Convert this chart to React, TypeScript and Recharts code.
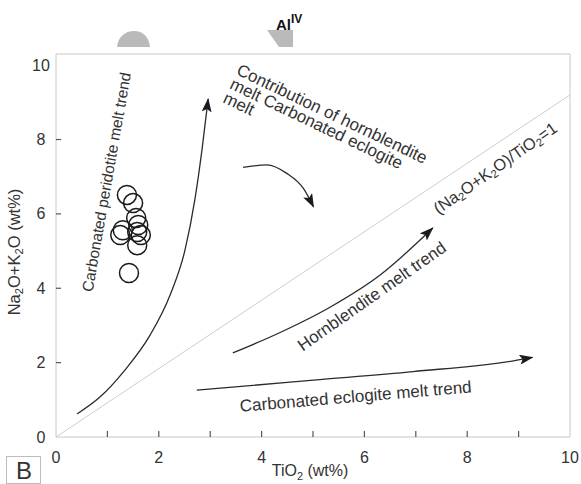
import React from 'react';
import { ComposedChart, XAxis, YAxis, Line, Scatter, ReferenceLine, ReferenceDot } from 'recharts';

const FONT = '"Liberation Sans", Arial, Helvetica, sans-serif';
const INK = '#333';
const FRAME = '#c8c8c8';

// axes
const TIO2_TICKS = [0, 1, 2, 3, 4, 5, 6, 7, 8, 9, 10];
const ALK_TICKS = [0, 2, 4, 6, 8, 10];
const TIO2_MAX = 10;
const ALK_MAX = 10.3;

// samples: TiO2 (wt%) vs Na2O+K2O (wt%)
const samples = [
  { x: 1.38, y: 6.51 },
  { x: 1.5, y: 6.29 },
  { x: 1.56, y: 5.89 },
  { x: 1.3, y: 5.56 },
  { x: 1.6, y: 5.7 },
  { x: 1.58, y: 5.51 },
  { x: 1.65, y: 5.43 },
  { x: 1.25, y: 5.43 },
  { x: 1.58, y: 5.16 },
  { x: 1.42, y: 4.41 },
];

// (Na2O+K2O)/TiO2 = 1 reference line
const ratioLine = [
  { x: 0, y: 0 },
  { x: 10, y: 9.2 },
];

// melt trends (arrows)
const peridotiteTrend = [
  { x: 0.41, y: 0.62 },
  { x: 0.86, y: 1.08 },
  { x: 1.34, y: 1.8 },
  { x: 1.83, y: 2.74 },
  { x: 2.22, y: 3.82 },
  { x: 2.51, y: 5.03 },
  { x: 2.7, y: 6.37 },
  { x: 2.84, y: 7.72 },
  { x: 2.96, y: 9.09 },
];
const contributionArrow = [
  { x: 3.64, y: 7.25 },
  { x: 4.1, y: 7.32 },
  { x: 4.49, y: 7.09 },
  { x: 4.81, y: 6.69 },
  { x: 5.01, y: 6.19 },
];
const hornblenditeTrend = [
  { x: 3.44, y: 2.26 },
  { x: 4.36, y: 2.81 },
  { x: 5.33, y: 3.49 },
  { x: 6.3, y: 4.35 },
  { x: 7.33, y: 5.62 },
];
const eclogiteTrend = [
  { x: 2.74, y: 1.26 },
  { x: 5.01, y: 1.53 },
  { x: 6.95, y: 1.76 },
  { x: 8.9, y: 2.05 },
  { x: 9.27, y: 2.14 },
];

// annotations (anchor in data units); "_2" marks a subscript
const notes = [
  { key: 'perid', x: 0.97, y: 6.86, lines: ['Carbonated peridotite melt trend'] },
  { key: 'contrib', x: 3.49, y: 9.76, lines: ['Contribution of hornblendite', 'melt Carbonated eclogite', 'melt'] },
  { key: 'ratio', x: 8.54, y: 7.24, lines: ['(Na_2O+K_2O)/TiO_2=1'] },
  { key: 'hbl', x: 6.14, y: 3.79, lines: ['Hornblendite melt trend'] },
  { key: 'ecl', x: 5.83, y: 1.1, lines: ['Carbonated eclogite melt trend'] },
];

const NOTE_STYLE: Record<string, { angle: number; size: number; anchor: string; baseline: string; gap?: number }> = {
  perid: { angle: -80, size: 15.5, anchor: 'middle', baseline: 'central' },
  contrib: { angle: 25.5, size: 17, anchor: 'start', baseline: 'alphabetic', gap: 15.5 },
  ratio: { angle: -35, size: 16.5, anchor: 'middle', baseline: 'central' },
  hbl: { angle: -35, size: 17, anchor: 'middle', baseline: 'central' },
  ecl: { angle: -4.8, size: 17, anchor: 'middle', baseline: 'central' },
};

// layout
const W = 581;
const H = 484;
const MARGIN = { top: 54, right: 11, bottom: 17, left: 0 };
const Y_AXIS_W = 56;
const X_AXIS_H = 30;
const PLOT_LEFT = MARGIN.left + Y_AXIS_W;
const PLOT_BOTTOM = H - MARGIN.bottom - X_AXIS_H;

const withSubs = (s: string, size: number) => {
  const parts = s.split(/(_\d)/).filter((p) => p !== '');
  return parts.map((p, i) =>
    p.startsWith('_') ? (
      <tspan key={i} dy={size * 0.28} fontSize={size * 0.68}>
        {p.slice(1)}
      </tspan>
    ) : (
      <tspan key={i} dy={i > 0 ? -size * 0.28 : undefined}>
        {p}
      </tspan>
    )
  );
};

const renderNote = (cx: number, cy: number, note: (typeof notes)[number]) => {
  const st = NOTE_STYLE[note.key];
  return (
    <text
      transform={`translate(${cx},${cy}) rotate(${st.angle})`}
      textAnchor={st.anchor as any}
      dominantBaseline={st.baseline as any}
      fontSize={st.size}
      fontFamily={FONT}
      fill={INK}
    >
      {note.lines.map((ln, i) => (
        <tspan key={i} x={0} dy={i === 0 ? 0 : st.gap}>
          {ln.includes('_') ? withSubs(ln, st.size) : ln}
        </tspan>
      ))}
    </text>
  );
};

const Ring = (props: any) => (
  <circle cx={props.cx} cy={props.cy} r={9.5} fill="none" stroke="#1b1b1b" strokeWidth={1.5} />
);

const XTick = (props: any) => {
  const v = props.payload.value;
  const x = props.x;
  return (
    <g>
      {v > 0 && v < 10 && <line x1={x} x2={x} y1={PLOT_BOTTOM} y2={PLOT_BOTTOM - 6} stroke="#555" strokeWidth={1.2} />}
      {v % 2 === 0 && (
        <text x={x} y={PLOT_BOTTOM + 20} textAnchor="middle" dominantBaseline="central" fontSize={16} fontFamily={FONT} fill={INK}>
          {v}
        </text>
      )}
    </g>
  );
};

const YTick = (props: any) => {
  const v = props.payload.value;
  const y = props.y;
  return (
    <g>
      {v > 0 && v < 10 && <line x1={PLOT_LEFT} x2={PLOT_LEFT + 5} y1={y} y2={y} stroke="#555" strokeWidth={1.2} />}
      <text x={41} y={y} textAnchor="middle" dominantBaseline="central" fontSize={16} fontFamily={FONT} fill={INK}>
        {v}
      </text>
    </g>
  );
};

const trendProps = {
  type: 'monotone' as const,
  dataKey: 'y',
  stroke: '#2b2b2b',
  strokeWidth: 1.3,
  dot: false,
  activeDot: false,
  isAnimationActive: false,
  markerEnd: 'url(#arrowHead)',
};

export default function App() {
  return (
    <div style={{ position: 'absolute', left: 0, top: 0, width: W, height: H, background: '#fff' }}>
      <svg width={0} height={0} style={{ position: 'absolute' }}>
        <defs>
          <marker id="arrowHead" viewBox="0 0 14 10" refX={13} refY={5} markerWidth={14} markerHeight={10} markerUnits="userSpaceOnUse" orient="auto">
            <path d="M0,0 L14,5 L0,10 L3,5 z" fill="#1b1b1b" />
          </marker>
        </defs>
      </svg>

      <ComposedChart width={W} height={H} margin={MARGIN}>
        <XAxis
          type="number"
          dataKey="x"
          domain={[0, TIO2_MAX]}
          ticks={TIO2_TICKS}
          interval={0}
          allowDataOverflow
          height={X_AXIS_H}
          axisLine={{ stroke: FRAME }}
          tickLine={false}
          tick={<XTick />}
        />
        <YAxis
          type="number"
          dataKey="y"
          domain={[0, ALK_MAX]}
          ticks={ALK_TICKS}
          interval={0}
          allowDataOverflow
          width={Y_AXIS_W}
          axisLine={{ stroke: FRAME }}
          tickLine={false}
          tick={<YTick />}
        />
        <ReferenceLine y={ALK_MAX} stroke={FRAME} />
        <ReferenceLine x={TIO2_MAX} stroke={FRAME} />

        <Line data={ratioLine} type="linear" dataKey="y" stroke="#cdcdcd" strokeWidth={1} dot={false} activeDot={false} isAnimationActive={false} />
        <Line data={peridotiteTrend} {...trendProps} />
        <Line data={contributionArrow} {...trendProps} />
        <Line data={hornblenditeTrend} {...trendProps} />
        <Line data={eclogiteTrend} {...trendProps} />

        <Scatter data={samples} shape={Ring} isAnimationActive={false} />

        {notes.map((n) => (
          <ReferenceDot key={n.key} x={n.x} y={n.y} r={0} shape={(p: any) => renderNote(p.cx, p.cy, n)} />
        ))}
      </ComposedChart>

      <svg width={W} height={H} style={{ position: 'absolute', left: 0, top: 0, pointerEvents: 'none' }}>
        {/* faint marks above the figure */}
        <path d="M117,47 C118,37 125,31 134,31 C143,31 149,37 150,47 Z" fill="#bababa" />
        <path d="M267,30 L293,30 L293,47 L279,47 Z" fill="#bababa" />
        <text x={276} y={30} fontSize={15} fontWeight="bold" fontFamily={FONT} fill="#111">
          Al
          <tspan dy={-7} fontSize={12}>
            IV
          </tspan>
        </text>

        <text transform="translate(14,252) rotate(-90)" textAnchor="middle" dominantBaseline="central" fontSize={16.5} fontFamily={FONT} fill={INK}>
          {withSubs('Na_2O+K_2O (wt%)', 16.5)}
        </text>
        <text x={310} y={476} textAnchor="middle" fontSize={16} fontFamily={FONT} fill={INK}>
          {withSubs('TiO_2 (wt%)', 16)}
        </text>

        <rect x={6.5} y={456.5} width={34} height={27} fill="none" stroke="#bdbdbd" />
        <text x={24} y={479} textAnchor="middle" fontSize={24} fontFamily={FONT} fill={INK}>
          B
        </text>
      </svg>
    </div>
  );
}
